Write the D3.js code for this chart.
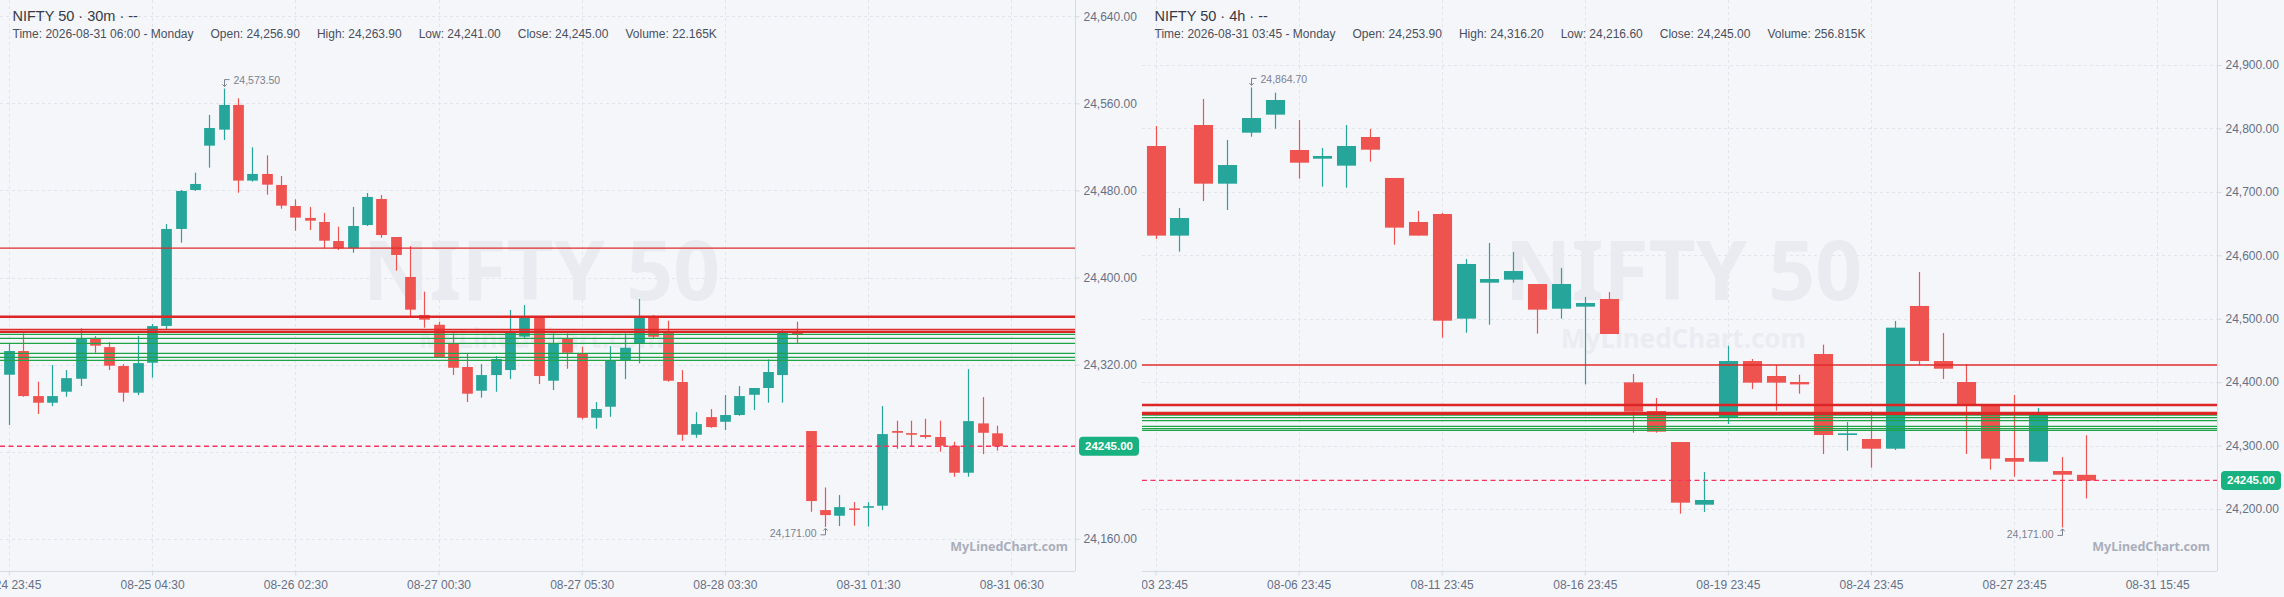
<!DOCTYPE html>
<html><head><meta charset="utf-8">
<script src="https://cdn.jsdelivr.net/npm/d3@7/dist/d3.min.js"></script>
<style>
html,body{margin:0;padding:0;background:#f5f6fa;overflow:hidden;}
svg{display:block;}
text{font-family:"Liberation Sans",Arial,Helvetica,sans-serif;}
</style></head><body>
<svg id="chart" width="2284" height="597"></svg>
<script>
// ---------------- DATA ----------------
const m30Title = 'NIFTY 50 · 30m · --';
const m30Info = ['Time: 2026-08-31 06:00 - Monday','Open: 24,256.90','High: 24,263.90','Low: 24,241.00','Close: 24,245.00','Volume: 22.165K'];
const m30TickIdx = [0,10,20,30,40,50,60,70];
const m30TickLabels = ['08-24 23:45','08-25 04:30','08-26 02:30','08-27 00:30','08-27 05:30','08-28 03:30','08-31 01:30','08-31 06:30'];
const m30PriceTicks = [24160,24240,24320,24400,24480,24560,24640];
// [open, high, low, close]
const m30Ohlc = [
[24310.7,24339.5,24264.5,24332.5],[24332.5,24348.7,24290.5,24291.1],[24291.1,24304.3,24274.6,24285.0],
[24285.0,24319.6,24281.9,24291.1],[24295.1,24315.0,24290.5,24307.6],[24307.0,24353.3,24300.3,24344.1],
[24344.1,24346.2,24330.9,24337.4],[24336.1,24340.7,24315.0,24319.0],[24318.7,24320.5,24285.9,24294.2],
[24294.2,24346.5,24292.0,24321.4],[24321.7,24357.3,24308.0,24355.4],[24355.5,24449.1,24352.4,24444.6],
[24444.6,24480.4,24432.0,24479.5],[24480.4,24496.3,24479.5,24485.9],[24521.1,24549.3,24500.9,24537.3],
[24535.8,24573.5,24526.3,24558.5],[24558.5,24564.6,24477.9,24489.0],[24489.0,24519.6,24488.0,24495.1],
[24495.1,24512.2,24476.1,24485.3],[24485.0,24493.2,24463.2,24466.0],[24465.7,24471.8,24443.0,24455.0],
[24454.7,24464.8,24443.6,24452.2],[24451.0,24459.3,24426.8,24433.8],[24433.5,24446.7,24425.3,24426.8],
[24426.8,24464.8,24422.8,24447.3],[24448.2,24477.6,24447.3,24474.0],[24472.1,24475.8,24436.6,24439.0],
[24437.2,24437.2,24406.3,24420.7],[24400.5,24428.9,24364.0,24370.5],[24365.6,24387.0,24353.9,24361.3],
[24356.6,24359.4,24326.5,24326.9],[24339.5,24348.7,24310.4,24317.1],[24317.8,24330.3,24285.6,24293.3],
[24296.0,24320.5,24289.6,24310.4],[24310.4,24327.9,24295.1,24325.1],[24315.0,24370.1,24306.7,24349.3],
[24345.7,24374.7,24344.5,24363.5],[24364.0,24364.5,24302.1,24309.5],[24305.2,24348.7,24296.6,24339.5],
[24343.5,24348.7,24316.2,24330.9],[24330.3,24336.4,24269.7,24271.2],[24271.2,24285.6,24261.1,24279.2],
[24281.3,24337.0,24272.1,24323.9],[24323.9,24348.7,24306.7,24335.5],[24339.5,24380.3,24321.1,24363.4],
[24364.6,24365.6,24344.5,24345.6],[24349.6,24360.3,24304.3,24305.2],[24304.0,24315.0,24250.1,24255.6],
[24255.6,24276.4,24252.8,24265.4],[24271.8,24279.2,24262.0,24262.6],[24267.5,24292.0,24259.9,24273.7],
[24273.7,24300.3,24273.0,24291.1],[24292.3,24298.5,24278.3,24298.5],[24298.5,24324.8,24285.0,24313.2],
[24310.4,24351.7,24285.0,24349.3],[24350.5,24359.4,24339.5,24348.0],[24259.0,24259.0,24184.9,24194.7],
[24186.4,24207.2,24171.0,24181.8],[24181.2,24200.2,24171.7,24189.1],[24187.9,24193.7,24172.0,24187.0],
[24189.0,24193.7,24171.2,24190.0],[24190.4,24281.9,24186.4,24256.2],[24259.0,24268.5,24242.7,24257.4],
[24257.1,24268.5,24245.2,24255.6],[24255.3,24270.3,24251.9,24253.5],[24253.5,24268.5,24240.0,24245.5],
[24245.5,24249.2,24217.0,24220.7],[24220.7,24315.9,24217.0,24268.1],[24266.0,24290.2,24237.8,24257.4],
[24256.9,24263.9,24241.0,24245.0]
];

const h4Title = 'NIFTY 50 · 4h · --';
const h4Info = ['Time: 2026-08-31 03:45 - Monday','Open: 24,253.90','High: 24,316.20','Low: 24,216.60','Close: 24,245.00','Volume: 256.815K'];
const h4TickIdx = [0,6,12,18,24,30,36,42];
const h4TickLabels = ['08-03 23:45','08-06 23:45','08-11 23:45','08-16 23:45','08-19 23:45','08-24 23:45','08-27 23:45','08-31 15:45'];
const h4PriceTicks = [24200,24300,24400,24500,24600,24700,24800,24900];
const h4Ohlc = [
[24772.3,24803.8,24625.7,24631.0],[24631.0,24674.6,24605.7,24658.8],[24805.4,24846.4,24685.6,24712.9],
[24712.9,24781.8,24671.4,24742.3],[24793.3,24864.7,24787.0,24816.4],[24821.7,24856.4,24799.6,24844.8],
[24766.0,24813.3,24720.8,24746.0],[24752.3,24769.2,24708.2,24756.5],[24741.3,24805.4,24706.6,24772.3],
[24786.5,24799.1,24747.6,24766.5],[24721.9,24721.9,24616.8,24643.6],[24652.5,24669.8,24631.0,24631.0],
[24665.1,24666.7,24470.1,24496.9],[24500.1,24594.2,24478.0,24586.3],[24556.8,24619.4,24490.6,24562.6],
[24561.6,24605.2,24556.8,24575.2],[24554.7,24554.7,24476.4,24514.3],[24515.8,24580.0,24500.1,24554.7],
[24519.0,24534.3,24396.5,24524.8],[24531.1,24542.1,24475.9,24475.9],[24399.7,24412.8,24320.3,24353.5],
[24354.5,24375.0,24320.3,24321.9],[24305.6,24305.6,24192.6,24210.0],[24206.8,24258.3,24195.3,24214.2],
[24344.5,24457.5,24334.0,24433.3],[24433.3,24436.5,24389.2,24399.2],[24409.7,24427.0,24355.0,24399.2],
[24400.2,24411.8,24381.8,24396.5],[24444.4,24459.1,24286.7,24316.7],[24316.7,24337.2,24292.0,24319.3],
[24310.4,24354.5,24265.2,24295.1],[24295.1,24496.4,24293.0,24485.9],[24520.1,24573.7,24427.0,24433.3],
[24433.3,24477.5,24405.0,24421.2],[24400.2,24428.6,24286.7,24364.0],[24364.0,24364.0,24262.0,24279.4],
[24280.4,24379.7,24251.0,24274.6],[24274.6,24359.2,24274.6,24350.8],[24259.9,24282.0,24171.0,24254.1],
[24253.9,24316.2,24216.6,24245.0]
];

// shared horizontal levels
const majorResistance = [24364.0, 24350.2];
const minorResistance = [24427.0, 24352.4];
const supportLevels = [24347.8, 24344.1, 24339.5, 24330.3, 24326.7, 24323.9];
const watermarkTitle = 'NIFTY 50';
const watermarkSite = 'MyLinedChart.com';

// ---------------- DRAW ----------------
const W = 2284, H = 597, PANEL_W = 1142, PLOT_W = 1075, PLOT_H = 571;
const UP = '#26a69a', DOWN = '#ef5350';
const svg = d3.select('#chart');
svg.append('rect').attr('width', W).attr('height', H).attr('fill', '#f5f6fa');
const defs = svg.append('defs');

function drawPanel(offsetX, p) {
  const pid = 'p' + offsetX;
  defs.append('clipPath').attr('id', pid + 'a').append('rect').attr('width', PANEL_W).attr('height', H);
  defs.append('clipPath').attr('id', pid + 'b').append('rect').attr('width', PLOT_W).attr('height', PLOT_H);
  const g = svg.append('g').attr('transform', `translate(${offsetX},0)`).attr('clip-path', `url(#${pid}a)`);

  const x = d3.scaleLinear()
    .domain([-p.firstX / p.step, (PLOT_W - p.firstX) / p.step]).range([0, PLOT_W]);
  const y = d3.scaleLinear()
    .domain([p.anchorV - (PLOT_H - p.anchorY) / p.pxPerUnit, p.anchorV + p.anchorY / p.pxPerUnit])
    .range([PLOT_H, 0]);

  // grid
  const grid = g.append('g').attr('stroke', '#e1e4ea').attr('stroke-width', 1).attr('stroke-dasharray', '3,3');
  grid.selectAll('line.h').data(p.priceTicks).join('line').attr('class', 'h')
    .attr('x1', 0).attr('x2', PLOT_W).attr('y1', d => Math.round(y(d)) + 0.5).attr('y2', d => Math.round(y(d)) + 0.5);
  grid.selectAll('line.v').data(p.tickIdx).join('line').attr('class', 'v')
    .attr('y1', 0).attr('y2', PLOT_H).attr('x1', d => Math.round(x(d)) + 0.5).attr('x2', d => Math.round(x(d)) + 0.5);

  const plot = g.append('g').attr('clip-path', `url(#${pid}b)`);

  // watermark
  plot.append('text').attr('x', PLOT_W / 2 + 4).attr('y', 300).attr('text-anchor', 'middle')
    .style('font-family', '"Noto Sans", Roboto, sans-serif').style('font-weight', 700).style('font-size', '82px')
    .attr('fill', '#e9ebf0').text(watermarkTitle);
  plot.append('text').attr('x', PLOT_W / 2 + 4).attr('y', 348).attr('text-anchor', 'middle')
    .style('font-family', '"Noto Sans", Roboto, sans-serif').style('font-weight', 700).style('font-size', '26px')
    .attr('fill', '#eaecf1').text(watermarkSite);

  // candles
  const bw = p.step * p.bodyFrac;
  const cg = plot.append('g');
  const cand = cg.selectAll('g').data(p.ohlc).join('g')
    .attr('fill', d => d[3] >= d[0] ? UP : DOWN).attr('stroke', d => d[3] >= d[0] ? UP : DOWN);
  cand.append('line')
    .attr('x1', (d, i) => Math.round(x(i)) + 0.5).attr('x2', (d, i) => Math.round(x(i)) + 0.5)
    .attr('y1', d => y(d[1])).attr('y2', d => y(d[2])).attr('stroke-width', 1.2);
  cand.append('rect').attr('stroke', 'none')
    .attr('x', (d, i) => Math.round(x(i)) + 0.5 - bw / 2).attr('width', bw)
    .attr('y', d => Math.min(y(d[0]), y(d[3])))
    .attr('height', d => Math.max(1.6, Math.abs(y(d[0]) - y(d[3]))));

  // levels
  const lv = plot.append('g');
  lv.selectAll('line.s').data(supportLevels).join('line').attr('class', 's')
    .attr('x1', 0).attr('x2', PLOT_W).attr('y1', d => y(d)).attr('y2', d => y(d))
    .attr('stroke', '#1fa347').attr('stroke-width', 1.2);
  lv.selectAll('line.mr').data(minorResistance).join('line').attr('class', 'mr')
    .attr('x1', 0).attr('x2', PLOT_W).attr('y1', d => y(d)).attr('y2', d => y(d))
    .attr('stroke', '#e02b2b').attr('stroke-width', 1.3);
  lv.selectAll('line.MR').data(majorResistance).join('line').attr('class', 'MR')
    .attr('x1', 0).attr('x2', PLOT_W).attr('y1', d => y(d)).attr('y2', d => y(d))
    .attr('stroke', '#dc2626').attr('stroke-width', 2.6);

  // current price line
  const last = p.ohlc[p.ohlc.length - 1][3];
  plot.append('line').attr('x1', 0).attr('x2', PLOT_W).attr('y1', y(last)).attr('y2', y(last))
    .attr('stroke', '#f7355c').attr('stroke-width', 1.3).attr('stroke-dasharray', '5,3.5');

  // high / low annotations
  const hiIdx = d3.maxIndex(p.ohlc, d => d[1]);
  const loIdx = d3.minIndex(p.ohlc, d => d[2]);
  const fmt = d3.format(',.2f');
  const hx = Math.round(x(hiIdx)) + 0.5, hy = y(p.ohlc[hiIdx][1]);
  plot.append('path').attr('d', `M${hx + 5},${hy - 9} L${hx},${hy - 9} L${hx},${hy - 2} M${hx - 2.2},${hy - 4.3} L${hx},${hy - 2} L${hx + 2.2},${hy - 4.3}`)
    .attr('fill', 'none').attr('stroke', '#7a8190').attr('stroke-width', 1);
  plot.append('text').attr('x', hx + 9).attr('y', hy - 4.5).style('font-size', '10.5px').attr('fill', '#7a8190')
    .text(fmt(p.ohlc[hiIdx][1]));
  const lx = Math.round(x(loIdx)) + 0.5, ly = y(p.ohlc[loIdx][2]);
  plot.append('path').attr('d', `M${lx - 5},${ly + 8} L${lx},${ly + 8} L${lx},${ly + 1.5} M${lx - 2.2},${ly + 3.8} L${lx},${ly + 1.5} L${lx + 2.2},${ly + 3.8}`)
    .attr('fill', 'none').attr('stroke', '#7a8190').attr('stroke-width', 1);
  plot.append('text').attr('x', lx - 9).attr('y', ly + 10.5).attr('text-anchor', 'end').style('font-size', '10.5px')
    .attr('fill', '#7a8190').text(fmt(p.ohlc[loIdx][2]));

  // corner watermark
  plot.append('text').attr('x', PLOT_W - 7).attr('y', 551).attr('text-anchor', 'end')
    .style('font-family', '"Noto Sans", Roboto, sans-serif').style('font-weight', 700).style('font-size', '12.5px')
    .attr('fill', '#a9aebb').text(watermarkSite);

  // axes
  const badgeY = y(last);
  const yAxis = d3.axisRight(y).tickValues(p.priceTicks.filter(t => Math.abs(y(t) - badgeY) > 14))
    .tickFormat(fmt).tickSize(4).tickPadding(4).tickSizeOuter(0);
  const ya = g.append('g').attr('transform', `translate(${PLOT_W + 0.5},0)`).call(yAxis);
  ya.select('.domain').attr('stroke', '#d6dae2').attr('d', `M0,0V${PLOT_H}`);
  ya.selectAll('.tick line').attr('stroke', '#d6dae2');
  ya.selectAll('.tick text').attr('fill', '#667085').style('font-size', '12px');

  const xAxis = d3.axisBottom(x).tickValues(p.tickIdx).tickFormat((d, i) => p.tickLabels[i])
    .tickSize(4).tickPadding(4.5).tickSizeOuter(0);
  const xa = g.append('g').attr('transform', `translate(0,${PLOT_H + 0.5})`).call(xAxis);
  xa.select('.domain').attr('stroke', '#d6dae2').attr('d', `M0,0H${PLOT_W}`);
  xa.selectAll('.tick line').attr('stroke', '#d6dae2');
  xa.selectAll('.tick text').attr('fill', '#667085').style('font-size', '12px');

  // price badge
  g.append('rect').attr('x', PLOT_W + 4).attr('y', badgeY - 9.5).attr('width', 60).attr('height', 19).attr('rx', 4)
    .attr('fill', '#17b27f');
  g.append('text').attr('x', PLOT_W + 34).attr('y', badgeY + 4).attr('text-anchor', 'middle')
    .style('font-size', '11.5px').style('font-weight', 700).attr('fill', '#ffffff').text(last.toFixed(2));

  // header
  g.append('text').attr('x', 12.5).attr('y', 21).style('font-size', '14.5px').attr('fill', '#363a45').text(p.title);
  let cx = 12.5;
  p.info.forEach(s => {
    const t = g.append('text').attr('x', cx).attr('y', 38).style('font-size', '12px').attr('fill', '#4a4f5c').text(s);
    cx += t.node().getComputedTextLength() + 17;
  });
}

drawPanel(0, { title: m30Title, info: m30Info, ohlc: m30Ohlc, tickIdx: m30TickIdx, tickLabels: m30TickLabels,
  priceTicks: m30PriceTicks, firstX: 8.9, step: 14.32, bodyFrac: 0.75, anchorV: 24560, anchorY: 103.3, pxPerUnit: 1.0888 });
drawPanel(PANEL_W, { title: h4Title, info: h4Info, ohlc: h4Ohlc, tickIdx: h4TickIdx, tickLabels: h4TickLabels,
  priceTicks: h4PriceTicks, firstX: 13.5, step: 23.85, bodyFrac: 0.8, anchorV: 24900, anchorY: 65, pxPerUnit: 0.6343 });
</script>
</body></html>
